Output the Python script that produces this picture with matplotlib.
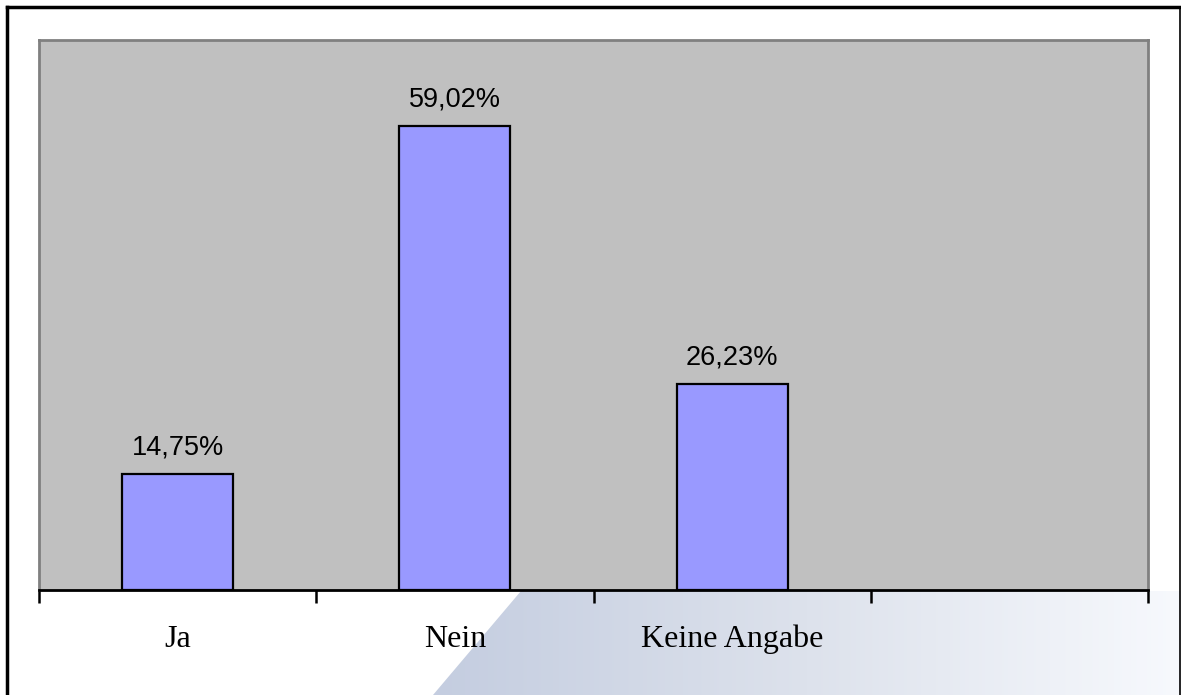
import matplotlib
matplotlib.use("Agg")
import matplotlib.pyplot as plt
import numpy as np
from matplotlib.patches import Polygon
from matplotlib.lines import Line2D
from matplotlib.colors import LinearSegmentedColormap

categories = ["Ja", "Nein", "Keine Angabe", ""]
values = [14.75, 59.02, 26.23, None]
value_labels = ["14,75%", "59,02%", "26,23%"]

W, H = 1181, 695
fig = plt.figure(figsize=(W / 100, H / 100), dpi=100)
fig.patch.set_facecolor("white")

# decorative gradient background (bottom right)
bg = fig.add_axes([0, 0, 1, 1], zorder=0)
bg.set_xlim(0, W)
bg.set_ylim(0, H)
bg.axis("off")
grad = np.linspace(0, 1, 256).reshape(1, -1)
cmap = LinearSegmentedColormap.from_list("g", ["#c4cde0", "#dde2ec", "#f7f9fd"])
im = bg.imshow(grad, extent=[433, W, 0, 104], cmap=cmap, aspect="auto", zorder=1)
poly = Polygon([[433, 0], [521, 104], [W, 104], [W, 0]], closed=True,
               transform=bg.transData, facecolor="none", edgecolor="none")
bg.add_patch(poly)
im.set_clip_path(poly)

# outer frame
bg.add_line(Line2D([7, 7], [0, H - 7], color="black", lw=2.5, zorder=5))
bg.add_line(Line2D([7, 1180], [H - 7, H - 7], color="black", lw=2.5, zorder=5))
bg.add_line(Line2D([1180, 1180], [0, H - 7], color="black", lw=1.2, zorder=5))

# main plot
ax = fig.add_axes([39 / W, (H - 590) / H, (1148 - 39) / W, (590 - 40) / H], zorder=2)
ax.set_facecolor("#c0c0c0")
x = np.arange(len(categories))
bar_vals = [v for v in values if v is not None]
bars = ax.bar(x[:len(bar_vals)], bar_vals, width=0.4, color="#9999ff",
              edgecolor="black", linewidth=1.6, zorder=3)
ax.set_xlim(-0.5, len(categories) - 0.5)
ax.set_ylim(0, 70)

for b, lab in zip(bars, value_labels):
    ax.annotate(lab, (b.get_x() + b.get_width() / 2, b.get_height()),
                xytext=(0, 10), textcoords="offset points", ha="center", va="bottom",
                fontsize=19.5, family="Liberation Sans", color="black")

ax.set_yticks([])
ax.set_xticks(np.arange(-0.5, len(categories), 1.0))
ax.set_xticklabels([])
ax.tick_params(axis="x", which="major", direction="out", length=9, width=1.8, color="black")
ax.set_xticks(x, minor=True)
ax.set_xticklabels(categories, minor=True, fontsize=23, family="Liberation Serif")
ax.tick_params(axis="x", which="minor", length=0, pad=25)

for s in ["left", "top", "right"]:
    ax.spines[s].set_color("#808080")
    ax.spines[s].set_linewidth(2)
ax.spines["bottom"].set_color("black")
ax.spines["bottom"].set_linewidth(2)

fig.savefig("out.png", dpi=100, facecolor="white")
